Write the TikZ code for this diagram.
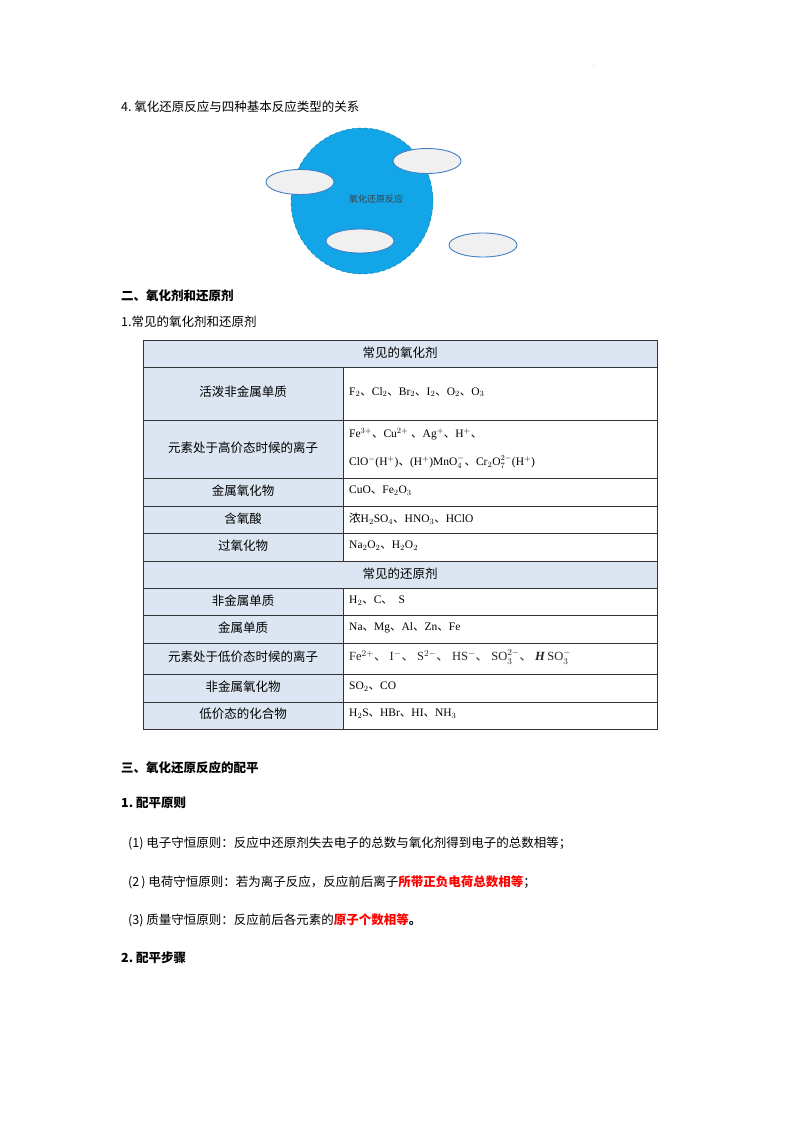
\documentclass[tikz,border=0pt]{standalone}
\usepackage{fontspec}
\usetikzlibrary{shapes.geometric}
\setmainfont{Liberation Serif}
\newfontfamily\cjk{Noto Sans CJK SC}
\definecolor{cellblue}{HTML}{DCE6F2}
\definecolor{ballblue}{HTML}{12A5E8}
\definecolor{elfill}{HTML}{F0F0F0}
\definecolor{elline}{HTML}{3F7FC4}
\begin{document}
\begin{tikzpicture}[x=1pt,y=-1pt,
  txt/.style={anchor=west,inner sep=0pt,font=\cjk\fontsize{12.5}{14}\selectfont},
  btxt/.style={anchor=west,inner sep=0pt,font=\cjk\bfseries\fontsize{12.5}{14}\selectfont},
  cell/.style={inner sep=0pt,font=\cjk\fontsize{12.5}{14}\selectfont},
  fml/.style={anchor=west,inner sep=0pt,font=\fontsize{11.5}{14}\selectfont},
  ell/.style={ellipse,draw=elline,fill=elfill,line width=0.9pt,minimum width=68pt,minimum height=25pt}]
\useasboundingbox (0,0) rectangle (800,1132);
\fill[white] (0,0) rectangle (800,1132);
\node[inner sep=0pt,font=\tiny] (dot) at (594,66) {.};
\node[txt] (t4) at (121,107) {4.\ 氧化还原反应与四种基本反应类型的关系};
% diagram
\node[ellipse,fill=ballblue,draw=ballblue!70!black,dashed,minimum width=142pt,minimum height=146pt,inner sep=0pt] (ball) at (362,201) {};
\node[inner sep=0pt,font=\cjk\fontsize{9}{10}\selectfont,text=black!75] (balltxt) at (376,199) {氧化还原反应};
\node[ell] (e1) at (300,182) {};
\node[ell] (e2) at (427,161) {};
\node[ell,minimum height=24pt] (e3) at (360,241) {};
\node[ell,minimum height=24pt] (e4) at (483,245) {};
\node[btxt] (h2) at (121,296) {二、氧化剂和还原剂};
\node[txt] (h21) at (121,322) {1.常见的氧化剂和还原剂};
% table
\fill[cellblue] (143,340) rectangle (657,367);
\fill[cellblue] (143,561) rectangle (657,588);
\foreach \a/\b in {367/420,420/478,478/506,506/533,533/561,588/615,615/643,643/674,674/702,702/729}
  \fill[cellblue] (143,\a) rectangle (343,\b);
\draw[black!80,line width=0.6pt] (143,340) rectangle (657,729);
\foreach \y in {367,420,478,506,533,561,588,615,643,674,702}
  \draw[black!80,line width=0.6pt] (143,\y) -- (657,\y);
\draw[black!80,line width=0.6pt] (343,367) -- (343,561) (343,588) -- (343,729);
\node[cell] (hx) at (400,353) {常见的氧化剂};
\node[cell] (hh) at (400,574) {常见的还原剂};
\node[cell] (l1) at (243,392) {活泼非金属单质};
\node[cell] (l2) at (243,448) {元素处于高价态时候的离子};
\node[cell] (l3) at (243,491) {金属氧化物};
\node[cell] (l4) at (243,519) {含氧酸};
\node[cell] (l5) at (243,546) {过氧化物};
\node[cell] (l6) at (243,601) {非金属单质};
\node[cell] (l7) at (243,628) {金属单质};
\node[cell] (l8) at (243,657) {元素处于低价态时候的离子};
\node[cell] (l9) at (243,687) {非金属氧化物};
\node[cell] (l10) at (243,714) {低价态的化合物};
\newcommand\dun{{\cjk 、}}
\node[fml] (r1) at (349,392) {F$_2$\dun Cl$_2$\dun Br$_2$\dun I$_2$\dun O$_2$\dun O$_3$};
\node[fml] (r2a) at (349,434) {Fe$^{3+}$\dun Cu$^{2+}$\ \dun Ag$^{+}$\dun H$^{+}$\dun};
\node[fml] (r2b) at (349,462) {ClO$^{-}$(H$^{+}$)\dun (H$^{+}$)MnO$_4^{-}$\dun Cr$_2$O$_7^{2-}$(H$^{+}$)};
\node[fml] (r3) at (349,491) {CuO\dun Fe$_2$O$_3$};
\node[fml] (r4) at (349,519) {{\cjk 浓}H$_2$SO$_4$\dun HNO$_3$\dun HClO};
\node[fml] (r5) at (349,546) {Na$_2$O$_2$\dun H$_2$O$_2$};
\node[fml] (r6) at (349,601) {H$_2$\dun C\dun\ \ S};
\node[fml] (r7) at (349,628) {Na\dun Mg\dun Al\dun Zn\dun Fe};
\node[fml,font=\fontsize{12.5}{14}\selectfont,text=black!85] (r8) at (349,657) {Fe$^{2+}$\dun\ I$^{-}$\dun\ S$^{2-}$\dun\ HS$^{-}$\dun\ SO$_3^{2-}$\dun\ \textbf{\textit{H}}\,SO$_3^{-}$};
\node[fml] (r9) at (349,687) {SO$_2$\dun CO};
\node[fml] (r10) at (349,714) {H$_2$S\dun HBr\dun HI\dun NH$_3$};
% section 3
\node[btxt] (h3) at (121,768) {三、氧化还原反应的配平};
\node[btxt] (h31) at (121,803) {1.\ 配平原则};
\node[txt] (p1) at (128,843) {(1)\ 电子守恒原则：反应中还原剂失去电子的总数与氧化剂得到电子的总数相等；};
\node[txt] (p2) at (128,882) {(2\,)\ 电荷守恒原则：若为离子反应，反应前后离子\textcolor{red}{\bfseries 所带正负电荷总数相等}；};
\node[txt] (p3) at (128,920) {(3)\ 质量守恒原则：反应前后各元素的\textcolor{red}{\bfseries 原子个数相等}\textbf{。}};
\node[btxt] (h32) at (121,958) {2.\ 配平步骤};
\end{tikzpicture}
\end{document}
